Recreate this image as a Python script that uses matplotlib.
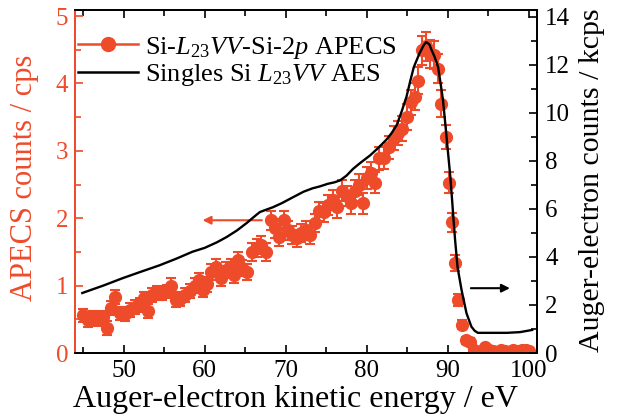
import matplotlib
matplotlib.use("Agg")
import matplotlib.pyplot as plt
from matplotlib.lines import Line2D
from matplotlib.ticker import MultipleLocator

plt.rcParams['font.family'] = ['Liberation Serif', 'DejaVu Serif']
plt.rcParams['mathtext.fontset'] = 'custom'
plt.rcParams['mathtext.rm'] = 'Liberation Serif'
plt.rcParams['mathtext.it'] = 'Liberation Serif:italic'

RED = '#EE4B2B'

# APECS data (eV, cps, error)
apecs_e = [45.0, 45.6, 46.2, 46.8, 47.4, 48.0, 48.5, 48.9, 49.6, 50.2, 50.8, 51.4, 52.0, 52.5,
           53.0, 53.5, 54.1, 54.7, 55.3, 55.9, 56.4, 57.0, 57.6, 58.2, 58.8, 59.3, 59.8, 60.3,
           60.8, 61.4, 62.0, 62.6, 63.2, 63.6, 64.1, 64.6, 65.2, 65.8, 66.4, 67.0, 67.6, 68.2,
           68.7, 69.2, 69.8, 70.3, 70.8, 71.4, 71.9, 72.5, 73.0, 73.6, 74.1, 74.7, 75.2, 75.8,
           76.3, 76.9, 77.5, 78.0, 78.5, 79.1, 79.5, 80.0, 80.5, 81.0, 81.5, 82.1, 82.7, 83.3,
           83.8, 84.4, 84.9, 85.4, 85.9, 86.3, 86.8, 87.3, 87.8, 88.3, 88.8, 89.2, 89.8, 90.1,
           90.5, 90.9, 91.3, 91.8, 92.3, 92.7, 93.2, 93.7, 94.2, 94.6, 95.1, 95.6, 96.1, 96.6,
           97.1, 97.6, 98.1, 98.6, 99.1, 99.6, 100.0]
apecs_c = [0.56, 0.49, 0.52, 0.50, 0.53, 0.37, 0.67, 0.83, 0.59, 0.58, 0.64, 0.68, 0.71, 0.81,
           0.62, 0.86, 0.89, 0.88, 0.91, 1.00, 0.78, 0.80, 0.86, 0.92, 1.00, 1.08, 0.93, 1.02,
           1.20, 1.27, 1.11, 1.23, 1.28, 1.16, 1.38, 1.26, 1.20, 1.50, 1.56, 1.60, 1.50, 1.97,
           1.85, 1.72, 1.97, 1.82, 1.75, 1.70, 1.78, 1.82, 1.75, 1.93, 2.10, 2.09, 2.20, 2.27,
           2.16, 2.41, 2.33, 2.22, 2.41, 2.50, 2.22, 2.60, 2.67, 2.53, 2.89, 2.90, 3.05, 3.19,
           3.26, 3.33, 3.50, 3.72, 3.80, 4.04, 4.49, 4.55, 4.44, 4.42, 4.22, 3.70, 3.20, 2.53,
           1.94, 1.33, 0.79, 0.42, 0.19, 0.17, 0.04, 0.02, 0.03, 0.09, 0.05, 0.03, 0.02, 0.04,
           0.03, 0.02, 0.04, 0.03, 0.05, 0.04, 0.03]
apecs_err = [0.10, 0.10, 0.10, 0.10, 0.10, 0.10, 0.10, 0.10, 0.10, 0.10, 0.10, 0.10, 0.10, 0.10,
             0.10, 0.10, 0.10, 0.10, 0.10, 0.11, 0.10, 0.10, 0.10, 0.10, 0.11, 0.11, 0.10, 0.11,
             0.12, 0.12, 0.12, 0.12, 0.12, 0.12, 0.12, 0.12, 0.12, 0.13, 0.13, 0.13, 0.13, 0.14,
             0.14, 0.13, 0.14, 0.14, 0.13, 0.13, 0.14, 0.14, 0.13, 0.14, 0.14, 0.14, 0.15, 0.15,
             0.15, 0.15, 0.15, 0.15, 0.15, 0.15, 0.15, 0.16, 0.16, 0.16, 0.17, 0.17, 0.17, 0.18,
             0.18, 0.18, 0.19, 0.19, 0.20, 0.20, 0.21, 0.22, 0.21, 0.21, 0.21, 0.20, 0.18, 0.16,
             0.14, 0.12, 0.09, 0.07, 0.05, 0.05, 0.03, 0.03, 0.03, 0.03, 0.03, 0.03, 0.03, 0.03,
             0.03, 0.03, 0.03, 0.03, 0.03, 0.03, 0.03]

# Singles AES (eV, kcps)
aes_e = [44.9, 47.5, 49.9, 52.0, 54.4, 56.5, 58.5, 60.0, 61.5, 62.7, 64.0, 65.2, 66.0, 66.8,
         67.5, 68.4, 69.5, 70.9, 72.2, 73.3, 74.2, 75.2, 76.0, 76.7, 77.5, 78.3, 79.2, 80.4,
         81.4, 82.4, 83.0, 83.7, 84.3, 84.9, 85.4, 85.8, 86.5, 87.0, 87.3, 87.7, 88.0, 88.4,
         88.8, 89.1, 89.4, 89.7, 90.0, 90.3, 90.5, 90.7, 90.9, 91.2, 91.7, 92.3, 92.9, 93.3,
         93.7, 95.2, 97.3, 98.9, 100.4]
aes_k = [2.50, 2.81, 3.12, 3.37, 3.65, 3.93, 4.22, 4.38, 4.61, 4.83, 5.11, 5.42, 5.65, 5.87,
         5.96, 6.07, 6.24, 6.49, 6.72, 6.86, 6.94, 7.05, 7.11, 7.19, 7.39, 7.67, 7.92, 8.23,
         8.54, 8.88, 9.13, 9.50, 10.06, 10.68, 11.38, 11.91, 12.48, 12.81, 12.95, 12.87, 12.62, 12.31,
         11.91, 11.24, 10.54, 9.50, 8.43, 7.36, 6.49, 5.56, 4.69, 3.57, 2.61, 1.66, 1.10, 0.93,
         0.84, 0.84, 0.84, 0.87, 0.96]

labels = [r'Si-$L_{23}VV$-Si-2$p$ APECS', r'Singles Si $L_{23}VV$ AES']

fig = plt.figure(figsize=(6.18, 4.18), dpi=100)
ax = fig.add_axes([75/618, 1-353/418, (537-75)/618, (353-10)/418])
ax2 = ax.twinx()

ax.errorbar(apecs_e, apecs_c, yerr=apecs_err, fmt='o', color=RED, ms=8.5,
            elinewidth=1.5, capsize=3.5, capthick=1.5, zorder=3)
ax2.plot(aes_e, aes_k, color='black', lw=1.7, zorder=4)

ax.set_xlim(44, 101)
ax.set_ylim(0, 5.09)
ax2.set_ylim(0, 14.29)

ax.xaxis.set_major_locator(MultipleLocator(10))
ax.xaxis.set_minor_locator(MultipleLocator(5))
ax.yaxis.set_major_locator(MultipleLocator(1))
ax.yaxis.set_minor_locator(MultipleLocator(0.5))
ax2.yaxis.set_major_locator(MultipleLocator(2))
ax2.yaxis.set_minor_locator(MultipleLocator(1))

fs_tick = 18
ax.tick_params(axis='x', which='both', direction='in', top=True, labelsize=fs_tick, width=1.2, pad=5)
ax.tick_params(axis='x', which='major', length=6)
ax.tick_params(axis='x', which='minor', length=4)
ax.tick_params(axis='y', which='both', direction='in', colors=RED, labelsize=fs_tick, width=1.2,
               right=False, pad=5)
ax.tick_params(axis='y', which='major', length=6)
ax.tick_params(axis='y', which='minor', length=4)
ax2.tick_params(axis='y', which='both', direction='in', labelsize=fs_tick, width=1.2, pad=6)
ax2.tick_params(axis='y', which='major', length=6)
ax2.tick_params(axis='y', which='minor', length=4)

for s in ax.spines.values():
    s.set_linewidth(1.3)
for s in ax2.spines.values():
    s.set_linewidth(1.3)
ax2.spines['left'].set_color(RED)
ax.spines['left'].set_color(RED)

ax.set_xlabel('Auger-electron kinetic energy / eV', fontsize=23)
ax.set_ylabel('APECS counts / cps', fontsize=22, color=RED)
ax2.set_ylabel('Auger-electron counts / kcps', fontsize=21.5)
ax.xaxis.set_label_coords(0.478, -0.092)
ax.yaxis.set_label_coords(-0.078, 0.51)
ax2.yaxis.set_label_coords(1.09, 0.505)

ax.annotate('', xy=(59.4, 1.97), xytext=(67.4, 1.97),
            arrowprops=dict(arrowstyle='-|>', color=RED, lw=1.5, mutation_scale=12))
ax2.annotate('', xy=(98.0, 2.70), xytext=(92.5, 2.70),
             arrowprops=dict(arrowstyle='-|>', color='black', lw=1.5, mutation_scale=12))

handles = [Line2D([], [], color=RED, marker='o', ms=10, lw=1.8),
           Line2D([], [], color='black', lw=1.8)]
ax.legend(handles, labels, loc='upper left', bbox_to_anchor=(0.0, 0.936), frameon=False,
          fontsize=19, handlelength=2.3, handletextpad=0.25, borderaxespad=0, borderpad=0.1,
          labelspacing=0.05)

fig.savefig('out.png', dpi=100)
